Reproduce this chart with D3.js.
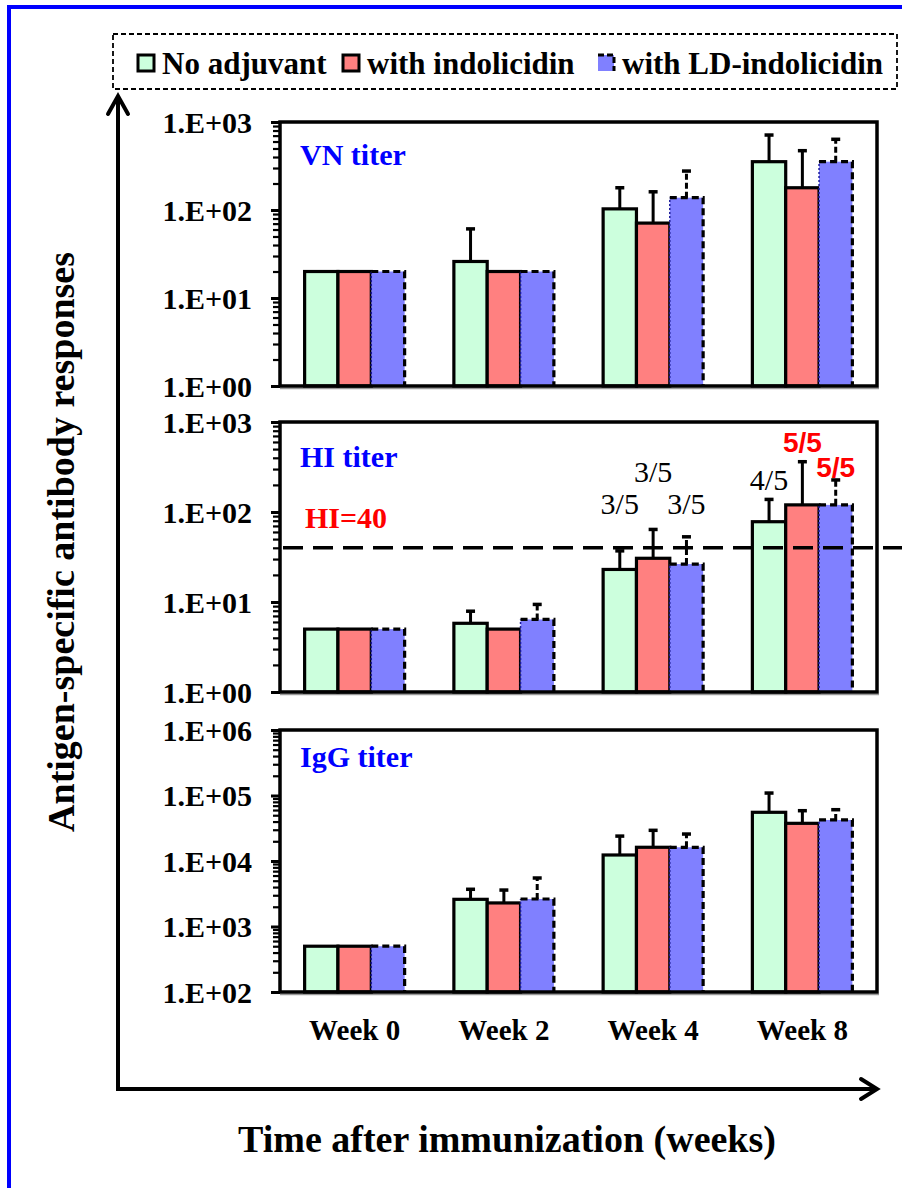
<!DOCTYPE html>
<html><head><meta charset="utf-8">
<script src="https://cdn.jsdelivr.net/npm/d3@7"></script>
<style>html,body{margin:0;padding:0;background:#fff;}svg{display:block;}</style>
</head><body>
<svg id="chart" width="902" height="1188"></svg>
<script>
// ---------- DATA ----------
const weeks = ["Week 0", "Week 2", "Week 4", "Week 8"];
const seriesNames = ["No adjuvant", "with indolicidin", "with LD-indolicidin"];

// VN titer (mean, upper error = mean + SD)
const vnNoAdj   = [20, 26, 103, 354];
const vnIndol   = [20, 20, 71, 179];
const vnLD      = [20, 20, 138, 354];
const vnNoAdjErr = [null, 61, 179, 711];
const vnIndolErr = [null, null, 161, 472];
const vnLDErr    = [null, null, 277, 636];

// HI titer
const hiNoAdj   = [5, 5.8, 23, 78];
const hiIndol   = [5, 5, 30.6, 120];
const hiLD      = [5, 6.4, 26.4, 120];
const hiNoAdjErr = [null, 7.9, 37, 138];
const hiIndolErr = [null, null, 64, 362];
const hiLDErr    = [null, 9.4, 53, 227];

// IgG titer
const igNoAdj   = [500, 2600, 12350, 55400];
const igIndol   = [500, 2290, 16200, 37600];
const igLD      = [500, 2630, 16200, 42300];
const igNoAdjErr = [null, 3700, 24000, 109000];
const igIndolErr = [null, 3600, 29400, 58600];
const igLDErr    = [null, 5500, 25800, 60700];

const vnTicks = ["1.E+00", "1.E+01", "1.E+02", "1.E+03"];
const hiTicks = ["1.E+00", "1.E+01", "1.E+02", "1.E+03"];
const igTicks = ["1.E+02", "1.E+03", "1.E+04", "1.E+05", "1.E+06"];

const hiThreshold = 40;
// responder ratios on HI panel: [week index, series index, label]
const ratioWeek = [2, 2, 2, 3, 3, 3];
const ratioSeries = [0, 1, 2, 0, 1, 2];
const ratioLabels = ["3/5", "3/5", "3/5", "4/5", "5/5", "5/5"];

// ---------- STYLE / LAYOUT ----------
const fills = ["#ccffdd", "#ff8080", "#8080ff"];
const serif = "'Liberation Serif','Times New Roman',Times,serif";
const sans = "'Liberation Sans',Arial,Helvetica,sans-serif";
const ratioColors = ["#000", "#000", "#000", "#000", "#ff0000", "#ff0000"];
const ratioFonts = [serif, serif, serif, serif, sans, sans];
const ratioWeights = ["normal", "normal", "normal", "normal", "bold", "bold"];
const ratioSizes = [30, 30, 30, 30, 28, 28];
const ratioLift = [37, 47, 23, 9, 10, 3];

const svg = d3.select("#chart");
const X0 = 280, X1 = 877;

const x = d3.scaleBand().domain(weeks).range([X0, X1]).paddingInner(0).paddingOuter(0);
const groupW = 100;
const xs = d3.scaleBand().domain(d3.range(3)).range([0, groupW]);

// blue frame (top & left only visible)
svg.append("rect").attr("x", 7).attr("y", 5).attr("width", 895).attr("height", 4).attr("fill", "#0000ff");
svg.append("rect").attr("x", 7).attr("y", 5).attr("width", 4).attr("height", 1183).attr("fill", "#0000ff");

const panels = [
  {name: "VN titer", top: 122, bottom: 386, domain: [1, 1000], ticks: vnTicks,
   means: [vnNoAdj, vnIndol, vnLD], errs: [vnNoAdjErr, vnIndolErr, vnLDErr], labelY: 165},
  {name: "HI titer", top: 422, bottom: 692, domain: [1, 1000], ticks: hiTicks,
   means: [hiNoAdj, hiIndol, hiLD], errs: [hiNoAdjErr, hiIndolErr, hiLDErr], labelY: 467},
  {name: "IgG titer", top: 730, bottom: 992, domain: [100, 1e6], ticks: igTicks,
   means: [igNoAdj, igIndol, igLD], errs: [igNoAdjErr, igIndolErr, igLDErr], labelY: 767}
];

panels.forEach((p, pi) => {
  const y = d3.scaleLog().domain(p.domain).range([p.bottom, p.top]);
  p.y = y;
  const g = svg.append("g");

  // shadow line below panel
  g.append("line").attr("x1", X0).attr("x2", X1 + 2).attr("y1", p.bottom + 2.5).attr("y2", p.bottom + 2.5)
    .attr("stroke", "#9a9a9a").attr("stroke-width", 1.5);

  // bars
  for (let s = 0; s < 3; s++) {
    weeks.forEach((w, wi) => {
      const v = p.means[s][wi];
      const bx = x(w) + (x.bandwidth() - groupW) / 2 + xs(s);
      const bw = xs.bandwidth();
      const by = y(v);
      const bh = p.bottom - by;
      g.append("rect").attr("x", bx).attr("y", by).attr("width", bw).attr("height", bh)
        .attr("fill", fills[s]).attr("stroke", "none");
      if (s < 2) {
        g.append("rect").attr("x", bx).attr("y", by).attr("width", bw).attr("height", bh)
          .attr("fill", "none").attr("stroke", "#000").attr("stroke-width", 3.2);
      } else {
        // dotted navy left & bottom, dashed black top & right
        g.append("path").attr("d", `M${bx},${p.bottom}V${by}`)
          .attr("stroke", "#1a1a9a").attr("stroke-width", 1.5).attr("stroke-dasharray", "2,2").attr("fill", "none");
        g.append("path").attr("d", `M${bx},${by}H${bx + bw}V${p.bottom}`)
          .attr("stroke", "#000").attr("stroke-width", 3.2).attr("stroke-dasharray", "7,4").attr("fill", "none");
      }
      const e = p.errs[s][wi];
      if (e != null) {
        const cx = bx + bw / 2;
        const ey = y(e);
        g.append("line").attr("x1", cx).attr("x2", cx).attr("y1", by).attr("y2", ey)
          .attr("stroke", "#000").attr("stroke-width", 3)
          .attr("stroke-dasharray", s === 2 ? "6,3" : null);
        g.append("line").attr("x1", cx - 4.5).attr("x2", cx + 4.5).attr("y1", ey).attr("y2", ey)
          .attr("stroke", "#000").attr("stroke-width", 3.5);
      }
    });
  }

  // frame
  g.append("rect").attr("x", X0).attr("y", p.top).attr("width", X1 - X0).attr("height", p.bottom - p.top)
    .attr("fill", "none").attr("stroke", "#000").attr("stroke-width", 3.5);

  // major ticks via axis
  const majors = p.ticks.map((t, i) => p.domain[0] * Math.pow(10, i));
  const axis = d3.axisLeft(y).tickValues(majors).tickSize(9).tickFormat((d, i) => p.ticks[i]);
  const ag = g.append("g").attr("transform", `translate(${X0},0)`).call(axis);
  ag.select(".domain").remove();
  ag.selectAll(".tick line").attr("stroke", "#000").attr("stroke-width", 3);
  ag.selectAll(".tick text").attr("x", -28).attr("dy", "0.34em")
    .attr("font-family", serif).attr("font-weight", "bold").attr("font-size", 30).attr("fill", "#000");

  // minor ticks
  const minors = [];
  for (let i = 0; i < majors.length - 1; i++) for (let k = 2; k <= 9; k++) minors.push(majors[i] * k);
  const mAxis = d3.axisLeft(y).tickValues(minors).tickSize(7).tickFormat("");
  const mg = g.append("g").attr("transform", `translate(${X0},0)`).call(mAxis);
  mg.select(".domain").remove();
  mg.selectAll(".tick line").attr("stroke", "#000").attr("stroke-width", 2.2);

  // panel label
  g.append("text").attr("x", 300).attr("y", p.labelY).text(p.name)
    .attr("font-family", serif).attr("font-weight", "bold").attr("font-size", 30).attr("fill", "#0000ff");
});

// HI threshold dashed line and label
const hp = panels[1];
svg.append("line").attr("x1", 283).attr("x2", 902).attr("y1", hp.y(hiThreshold)).attr("y2", hp.y(hiThreshold))
  .attr("stroke", "#000").attr("stroke-width", 3.5).attr("stroke-dasharray", "20,10");
svg.append("text").attr("x", 305).attr("y", 528).text("HI=" + hiThreshold)
  .attr("font-family", serif).attr("font-weight", "bold").attr("font-size", 30).attr("fill", "#ff0000");

// responder ratios
ratioLabels.forEach((lab, i) => {
  const wi = ratioWeek[i], s = ratioSeries[i];
  const bx = x(weeks[wi]) + (x.bandwidth() - groupW) / 2 + xs(s) + xs.bandwidth() / 2;
  const top = hp.y(panels[1].errs[s][wi]);
  svg.append("text").attr("x", bx).attr("y", top - ratioLift[i]).text(lab)
    .attr("text-anchor", "middle").attr("font-family", ratioFonts[i]).attr("font-weight", ratioWeights[i])
    .attr("font-size", ratioSizes[i]).attr("fill", ratioColors[i]);
});

// week labels
svg.selectAll(".wk").data(weeks).enter().append("text")
  .attr("x", d => x(d) + x.bandwidth() / 2).attr("y", 1040).text(d => d)
  .attr("text-anchor", "middle").attr("font-family", serif).attr("font-weight", "bold").attr("font-size", 29);

// big axes arrows
svg.append("path").attr("d", "M118,1089V96").attr("stroke", "#000").attr("stroke-width", 4).attr("fill", "none");
svg.append("path").attr("d", "M108,114L118,96L128,114").attr("stroke", "#000").attr("stroke-width", 4)
  .attr("fill", "none").attr("stroke-linejoin", "miter").attr("stroke-linecap", "round");
svg.append("path").attr("d", "M116,1089H875").attr("stroke", "#000").attr("stroke-width", 4).attr("fill", "none");
svg.append("path").attr("d", "M861,1079L877,1089L861,1099").attr("stroke", "#000").attr("stroke-width", 4)
  .attr("fill", "none").attr("stroke-linejoin", "miter").attr("stroke-linecap", "round");

// axis titles
svg.append("text").attr("transform", "translate(74,542) rotate(-90)").attr("text-anchor", "middle")
  .text("Antigen-specific antibody responses")
  .attr("font-family", serif).attr("font-weight", "bold").attr("font-size", 38);
svg.append("text").attr("x", 507).attr("y", 1152).attr("text-anchor", "middle")
  .text("Time after immunization (weeks)")
  .attr("font-family", serif).attr("font-weight", "bold").attr("font-size", 38);

// legend
svg.append("rect").attr("x", 113).attr("y", 34).attr("width", 784).attr("height", 55)
  .attr("fill", "none").attr("stroke", "#000").attr("stroke-width", 1.8).attr("stroke-dasharray", "5,3");
const legX = [138, 343, 598];
seriesNames.forEach((n, i) => {
  const lx = legX[i];
  svg.append("rect").attr("x", lx).attr("y", 55).attr("width", 16).attr("height", 16).attr("fill", fills[i]);
  if (i < 2) {
    svg.append("rect").attr("x", lx).attr("y", 55).attr("width", 16).attr("height", 16)
      .attr("fill", "none").attr("stroke", "#000").attr("stroke-width", 3);
  } else {
    svg.append("path").attr("d", `M${lx},55H${lx + 16}V71`).attr("fill", "none")
      .attr("stroke", "#000").attr("stroke-width", 3).attr("stroke-dasharray", "6,3");
  }
  svg.append("text").attr("x", lx + 24).attr("y", 74).text(n)
    .attr("font-family", serif).attr("font-weight", "bold").attr("font-size", 31);
});
</script>
</body></html>
